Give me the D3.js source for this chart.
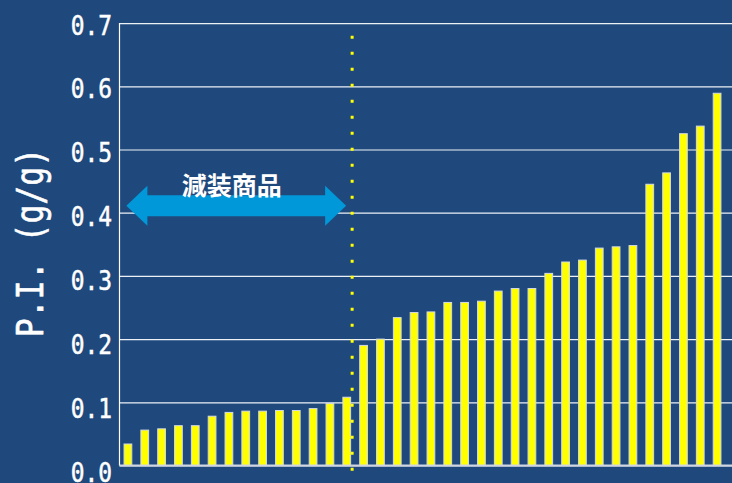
<!DOCTYPE html>
<html>
<head>
<meta charset="utf-8">
<script src="https://cdn.jsdelivr.net/npm/d3@7/dist/d3.min.js"></script>
<style>
  html, body { margin: 0; padding: 0; background: #1F497D; }
  svg { display: block; }
</style>
</head>
<body>
<svg id="chart" width="732" height="483"></svg>
<script>
// ---- data ----
const products = d3.range(1, 37).map(String);
const piValues = [0.034, 0.056, 0.058, 0.063, 0.063, 0.078, 0.084, 0.086, 0.086, 0.087,
                  0.087, 0.090, 0.098, 0.108, 0.190, 0.200, 0.234, 0.242, 0.243, 0.258,
                  0.258, 0.260, 0.276, 0.280, 0.280, 0.304, 0.322, 0.325, 0.344, 0.346,
                  0.348, 0.445, 0.463, 0.525, 0.537, 0.589];
const yTicks = [0.0, 0.1, 0.2, 0.3, 0.4, 0.5, 0.6, 0.7];
const yTitle = "P.I. (g/g)";
const groupLabel = "減装商品";
const reducedCount = 14;      // number of products in the "減装商品" group
const arrowLevel = 0.411;     // vertical level of the arrow (P.I. units)

(function () {
// ---- layout ----
const W = 732, H = 483;
const mLeft = 119.5, mTop = 23.1, mBottom = 465.5, plotRight = 725.5;
const svg = d3.select("#chart");
svg.append("rect").attr("width", W).attr("height", H).attr("fill", "#1F497D");

const x = d3.scaleBand().domain(products).range([mLeft, plotRight])
  .paddingInner(0.54).paddingOuter(0.27);
const y = d3.scaleLinear().domain([0, 0.7]).range([mBottom, mTop]);
const labelY = d3.scaleLinear().domain([0, 0.7]).range([481.5, 34.5]);

// grid lines via axis
const yAxis = d3.axisLeft(y).tickValues(yTicks).tickSize(-(W - mLeft + 5)).tickFormat("");
const gAxis = svg.append("g").attr("transform", `translate(${mLeft},0)`).call(yAxis);
gAxis.select(".domain").remove();
gAxis.selectAll(".tick line").attr("stroke", "#ffffff").attr("stroke-width", 1.2)
  .attr("stroke-opacity", 0.92);

// tick labels
const sx = 0.88;
svg.append("g").selectAll("text").data(yTicks).join("text")
  .attr("transform", d => `translate(${mLeft - 7.5},${labelY(d)}) scale(${sx},1)`)
  .attr("text-anchor", "end")
  .attr("font-family", "'DejaVu Sans Mono', monospace")
  .attr("font-size", 26)
  .attr("fill", "#ffffff")
  .attr("stroke", "#ffffff")
  .attr("stroke-width", 0.5)
  .text(d3.format(".1f"));

// left axis line
svg.append("line").attr("x1", mLeft).attr("x2", mLeft).attr("y1", mTop).attr("y2", mBottom)
  .attr("stroke", "#ffffff").attr("stroke-width", 1.2);

// bars
svg.append("g").selectAll("rect").data(piValues).join("rect")
  .attr("x", (d, i) => x(products[i]))
  .attr("y", d => y(d))
  .attr("width", x.bandwidth())
  .attr("height", d => y(0) - y(d))
  .attr("fill", "#ffff00")
  .attr("stroke", "#d4dae4")
  .attr("stroke-width", 1);

// baseline
svg.append("line").attr("x1", mLeft).attr("x2", W).attr("y1", y(0)).attr("y2", y(0))
  .attr("stroke", "#d0d6e0").attr("stroke-width", 2);

// divider (dotted)
const step = x.step();
const divX = x(products[reducedCount - 1]) + step * 0.55;
svg.append("line").attr("x1", divX).attr("x2", divX)
  .attr("y1", y(0.68)).attr("y2", y(-0.016))
  .attr("stroke", "#ffff00").attr("stroke-width", 3)
  .attr("stroke-dasharray", "3,13");

// double arrow
const tipL = x(products[0]) + x.bandwidth() * 0.3;
const tipR = divX - 6;
const ay = y(arrowLevel);
const headLen = 21, headHalf = 20, shaftHalf = 10.5;
const arrowPts = [
  [tipL, ay], [tipL + headLen, ay - headHalf], [tipL + headLen, ay - shaftHalf],
  [tipR - headLen, ay - shaftHalf], [tipR - headLen, ay - headHalf], [tipR, ay],
  [tipR - headLen, ay + headHalf], [tipR - headLen, ay + shaftHalf],
  [tipL + headLen, ay + shaftHalf], [tipL + headLen, ay + headHalf]
];
svg.append("path").attr("d", d3.line()(arrowPts) + "Z").attr("fill", "#0098d8");

svg.append("text")
  .attr("x", (tipL + tipR) / 2 - 4.5)
  .attr("y", ay - 10.5)
  .attr("text-anchor", "middle")
  .attr("font-family", "'Noto Sans CJK JP', sans-serif")
  .attr("font-weight", "bold")
  .attr("font-size", 25)
  .attr("fill", "#ffffff")
  .text(groupLabel);

// y title
svg.append("text")
  .attr("transform", `translate(43,242.5) rotate(-90) scale(0.85,1)`)
  .attr("text-anchor", "middle")
  .attr("font-family", "'DejaVu Sans Mono', monospace")
  .attr("font-size", 37)
  .attr("fill", "#ffffff")
  .attr("stroke", "#ffffff")
  .attr("stroke-width", 0.6)
  .text(yTitle);
})();
</script>
</body>
</html>
